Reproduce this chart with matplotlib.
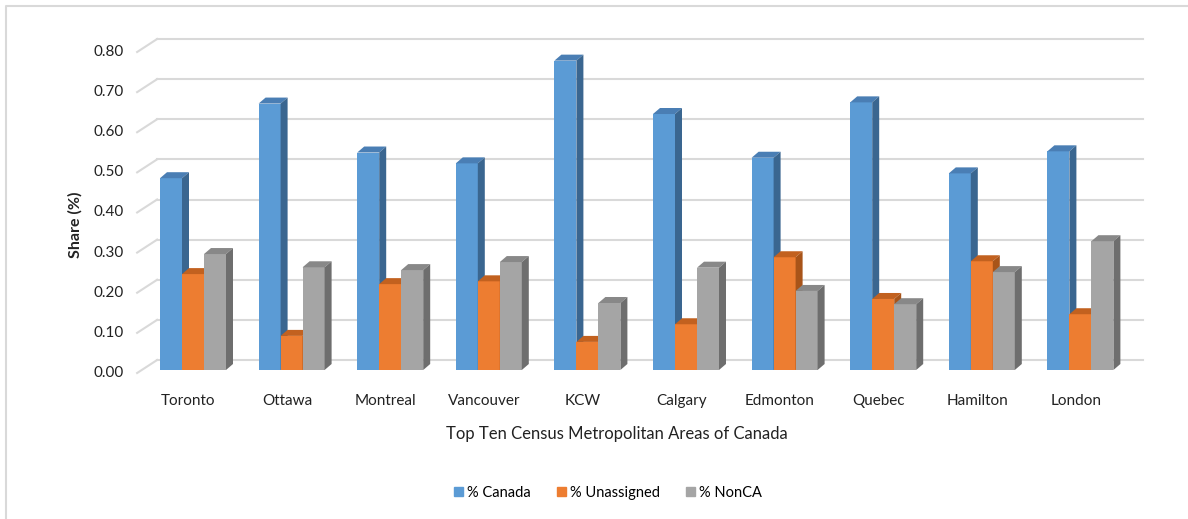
import matplotlib.pyplot as plt
from matplotlib.patches import Patch
from matplotlib.lines import Line2D

cities = ["Toronto", "Ottawa", "Montreal", "Vancouver", "KCW",
          "Calgary", "Edmonton", "Quebec", "Hamilton", "London"]
canada = [0.478, 0.664, 0.542, 0.515, 0.771, 0.638, 0.529, 0.667, 0.490, 0.545]
unassigned = [0.239, 0.085, 0.214, 0.221, 0.070, 0.114, 0.281, 0.177, 0.271, 0.139]
nonca = [0.289, 0.256, 0.249, 0.269, 0.167, 0.255, 0.197, 0.164, 0.244, 0.321]
yticks = [0.0, 0.1, 0.2, 0.3, 0.4, 0.5, 0.6, 0.7, 0.8]
series = ["% Canada", "% Unassigned", "% NonCA"]

# front / top / side colours for each series
colors = [("#5B9BD5", "#4A7EB4", "#3A6690"),
          ("#ED7D31", "#C2611F", "#A85419"),
          ("#A5A5A5", "#888888", "#6E6E6E")]

plt.rcParams['font.family'] = ['Lato', 'DejaVu Sans']

fig = plt.figure(figsize=(11.88, 5.19), dpi=100)
ax = fig.add_axes([0, 0, 1, 1])
# pixel-ish scaling: 98.6 px per category, 401.25 px per unit value
PX, PY = 98.6, 401.25
ax.set_xlim(-188.4 / PX, (1188 - 188.4) / PX)
ax.set_ylim(-146 / PY, (519 - 146) / PY)
ax.axis('off')

# fake 3d depth
DX, DY = 20 / PX, 13 / PY        # floor / wall depth
BX, BY = 4.6 / PX, 3 / PY        # bar front offset
SX, SY = 7 / PX, 6 / PY          # bar depth
W = 22 / PX
grid_c = "#D9D9D9"
x0, x1 = -0.52, 9.48

for v in yticks:
    ax.plot([x0, x0 + DX], [v, v + DY], color=grid_c, lw=1.5, zorder=1)
    ax.plot([x0 + DX, x1 + DX], [v + DY, v + DY], color=grid_c, lw=1.5, zorder=1)
    ax.text(-0.653, v, "%.2f" % v, ha='right', va='center', fontsize=11, color="#222222")

z = 2
for i in range(len(cities)):
    for j, vals in enumerate([canada, unassigned, nonca]):
        h = vals[i]
        fc, tc, sc = colors[j]
        left = i - 33 / PX + BX + j * W
        right = left + W
        b = BY
        top = b + h
        ax.fill([left, right, right, left], [b, b, top, top], color=fc, lw=0, zorder=z)
        ax.fill([left, right, right + SX, left + SX], [top, top, top + SY, top + SY],
                color=tc, lw=0, zorder=z)
        ax.fill([right, right + SX, right + SX, right], [b, b + SY, top + SY, top],
                color=sc, lw=0, zorder=z)
        z += 1

for i, c in enumerate(cities):
    ax.text(i, (519 - 401 - 146) / PY, c, ha='center', va='center', fontsize=11, color="#222222")

ax.text((617 - 188.4) / PX, (519 - 434 - 146) / PY,
        "Top Ten Census Metropolitan Areas of Canada",
        ha='center', va='center', fontsize=12, color="#222222")
ax.text((75 - 188.4) / PX, (519 - 225 - 146) / PY, "Share (%)", rotation=90,
        ha='center', va='center', fontsize=11.5, fontweight='bold', color="#222222")

handles = [Patch(color=colors[k][0]) for k in range(3)]
fig.legend(handles, series, loc='center', bbox_to_anchor=(608 / 1188, 1 - 493 / 519),
           ncol=3, frameon=False, fontsize=10.5, handlelength=0.6, handleheight=0.6,
           columnspacing=1.8, handletextpad=0.3)

# chart border (only left and top visible)
fig.add_artist(Line2D([6 / 1188, 6 / 1188, 1], [0, 1 - 6 / 519, 1 - 6 / 519],
                      color=grid_c, lw=1.5, transform=fig.transFigure))

fig.savefig("out.png", dpi=100)
